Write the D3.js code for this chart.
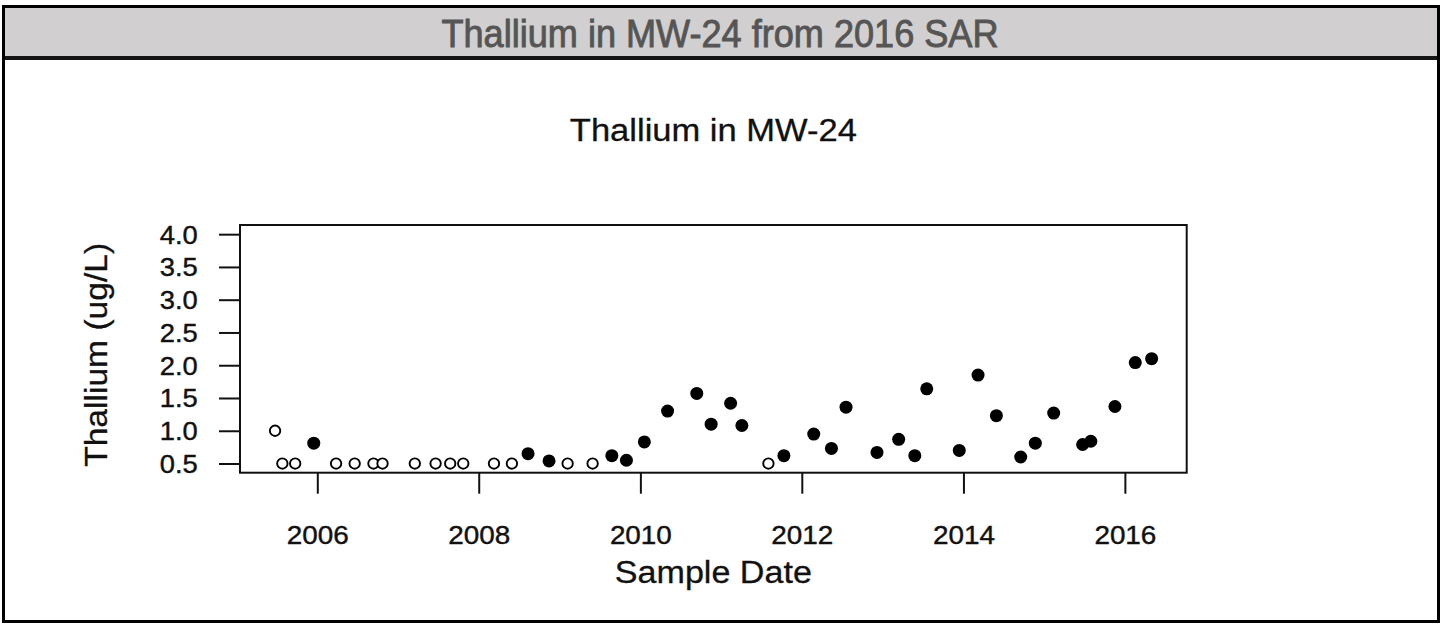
<!DOCTYPE html>
<html>
<head>
<meta charset="utf-8">
<script src="https://cdn.jsdelivr.net/npm/d3@7"></script>
<style>
  html, body { margin: 0; padding: 0; background: #ffffff; }
  svg { display: block; }
  text { font-family: "Liberation Sans", Arial, Helvetica, sans-serif; }
</style>
</head>
<body>
<svg id="chart" width="1440" height="624"></svg>
<script>
// Thallium results for monitoring well MW-24 (ug/L)
const sampleDates = [
  "2005-06-24", "2005-07-27", "2005-09-23", "2005-12-16",
  "2006-03-27", "2006-06-19", "2006-09-12", "2006-10-23",
  "2007-03-18", "2007-06-20", "2007-08-25", "2007-10-23",
  "2008-03-10", "2008-05-30", "2008-08-11", "2008-11-14",
  "2009-02-06", "2009-05-30", "2009-08-25", "2009-10-30",
  "2010-01-19", "2010-05-04", "2010-09-13", "2010-11-17",
  "2011-02-13", "2011-04-05", "2011-08-03", "2011-10-12",
  "2012-02-24", "2012-05-14", "2012-07-19", "2012-12-06",
  "2013-03-14", "2013-05-26", "2013-07-19", "2013-12-13",
  "2014-03-08", "2014-05-30", "2014-09-17", "2014-11-22",
  "2015-02-13", "2015-06-24", "2015-07-31", "2015-11-17",
  "2016-02-17", "2016-05-01"
];
const thallium = [
  1.0, 0.5, 0.5, 0.81,
  0.5, 0.5, 0.5, 0.5,
  0.5, 0.5, 0.5, 0.5,
  0.5, 0.5, 0.65, 0.54,
  0.5, 0.5, 0.62, 0.55,
  0.83, 1.30, 1.57, 1.10,
  1.42, 1.08, 0.5, 0.62,
  0.95, 0.73, 1.36, 0.67,
  0.87, 0.62, 1.64, 0.70,
  1.85, 1.23, 0.60, 0.81,
  1.27, 0.79, 0.84, 1.37,
  2.04, 2.10
];
// true = detected (filled), false = non-detect at reporting limit (open)
const detected = [
  false, false, false, true,
  false, false, false, false,
  false, false, false, false,
  false, false, true, true,
  false, false, true, true,
  true, true, true, true,
  true, true, false, true,
  true, true, true, true,
  true, true, true, true,
  true, true, true, true,
  true, true, true, true,
  true, true
];
const yTicks = [0.5, 1.0, 1.5, 2.0, 2.5, 3.0, 3.5, 4.0];
const xTickYears = [2006, 2008, 2010, 2012, 2014, 2016];

const headerTitle = "Thallium in MW-24 from 2016 SAR";
const plotTitle = "Thallium in MW-24";
const xLabel = "Sample Date";
const yLabel = "Thallium (ug/L)";

const parse = d3.timeParse("%Y-%m-%d");
const points = sampleDates.map((d, i) => ({ date: parse(d), value: thallium[i], det: detected[i] }));

const svg = d3.select("#chart");

// Page frame and header band
svg.append("rect").attr("x", 5).attr("y", 8).attr("width", 1432).attr("height", 48).attr("fill", "#d1cfcf");
svg.append("rect").attr("x", 5).attr("y", 56).attr("width", 1432).attr("height", 4).attr("fill", "#151515");
svg.append("rect").attr("x", 3.5).attr("y", 6.5).attr("width", 1435).attr("height", 615)
  .attr("fill", "none").attr("stroke", "#000").attr("stroke-width", 3);

svg.append("text")
  .attr("x", 720).attr("y", 47)
  .attr("text-anchor", "middle")
  .style("font-family", "'Liberation Sans Narrow', 'Arial Narrow', 'Liberation Sans', sans-serif")
  .style("font-weight", "normal")
  .style("font-size", "39px")
  .attr("fill", "#555555")
  .attr("stroke", "#555555").attr("stroke-width", 0.9)
  .attr("textLength", 557).attr("lengthAdjust", "spacingAndGlyphs")
  .text(headerTitle);

// Plot region
const plot = { left: 240, right: 1186.7, top: 225, bottom: 472.7 };

// Axis limits padded by 4% on each side of the data / limits
function padDates(a, b) {
  const span = b - a;
  return [new Date(+a - span * 0.04), new Date(+b + span * 0.04)];
}
const dateExtent = d3.extent(points, d => d.date);
const x = d3.scaleTime().domain(padDates(dateExtent[0], dateExtent[1])).range([plot.left, plot.right]);
const yLo = 0.5, yHi = 4.0, yPad = (yHi - yLo) * 0.04;
const y = d3.scaleLinear().domain([yLo - yPad, yHi + yPad]).range([plot.bottom, plot.top]);

// Y axis
const yAxis = svg.append("g")
  .attr("transform", `translate(${plot.left},0)`)
  .call(d3.axisLeft(y).tickValues(yTicks).tickFormat(d3.format(".1f")).tickSize(21).tickPadding(21.3));
yAxis.select(".domain").remove();
yAxis.selectAll(".tick line").attr("stroke", "#111").attr("stroke-width", 2);
yAxis.selectAll(".tick text")
  .attr("dy", "0.36em")
  .style("font-size", "25px")
  .style("font-family", "'Liberation Sans', Arial, sans-serif")
  .attr("fill", "#111")
  .attr("stroke", "#111").attr("stroke-width", 0.4)
  .attr("textLength", 38).attr("lengthAdjust", "spacingAndGlyphs");

// X axis
const xAxis = svg.append("g")
  .attr("transform", `translate(0,${plot.bottom})`)
  .call(d3.axisBottom(x)
    .tickValues(xTickYears.map(yr => new Date(yr, 0, 1)))
    .tickFormat(d3.timeFormat("%Y"))
    .tickSize(21).tickPadding(33));
xAxis.select(".domain").remove();
xAxis.selectAll(".tick line").attr("stroke", "#111").attr("stroke-width", 2);
xAxis.selectAll(".tick text")
  .style("font-size", "25px")
  .style("font-family", "'Liberation Sans', Arial, sans-serif")
  .attr("fill", "#111")
  .attr("stroke", "#111").attr("stroke-width", 0.4)
  .attr("textLength", 62).attr("lengthAdjust", "spacingAndGlyphs");

// Plot box
svg.append("rect")
  .attr("x", plot.left).attr("y", plot.top)
  .attr("width", plot.right - plot.left).attr("height", plot.bottom - plot.top)
  .attr("fill", "none").attr("stroke", "#111").attr("stroke-width", 2);

// Points: open circles for non-detects, filled for detections
svg.append("g").selectAll("circle")
  .data(points)
  .join("circle")
  .attr("cx", d => x(d.date))
  .attr("cy", d => y(d.value))
  .attr("r", d => d.det ? 6.5 : 5.2)
  .attr("fill", d => d.det ? "#000" : "#fff")
  .attr("stroke", "#000")
  .attr("stroke-width", d => d.det ? 0 : 1.9);

// Titles
svg.append("text")
  .attr("x", (plot.left + plot.right) / 2).attr("y", 141)
  .attr("text-anchor", "middle")
  .style("font-size", "31px")
  .attr("fill", "#111")
  .attr("stroke", "#111").attr("stroke-width", 0.3)
  .attr("textLength", 287).attr("lengthAdjust", "spacingAndGlyphs")
  .text(plotTitle);

svg.append("text")
  .attr("x", (plot.left + plot.right) / 2).attr("y", 583)
  .attr("text-anchor", "middle")
  .style("font-size", "31px")
  .attr("fill", "#111")
  .attr("stroke", "#111").attr("stroke-width", 0.3)
  .attr("textLength", 197).attr("lengthAdjust", "spacingAndGlyphs")
  .text(xLabel);

svg.append("text")
  .attr("transform", `translate(107,${(plot.top + plot.bottom) / 2 + 6}) rotate(-90)`)
  .attr("text-anchor", "middle")
  .style("font-size", "31px")
  .attr("fill", "#111")
  .attr("stroke", "#111").attr("stroke-width", 0.3)
  .attr("textLength", 224).attr("lengthAdjust", "spacingAndGlyphs")
  .text(yLabel);
</script>
</body>
</html>
